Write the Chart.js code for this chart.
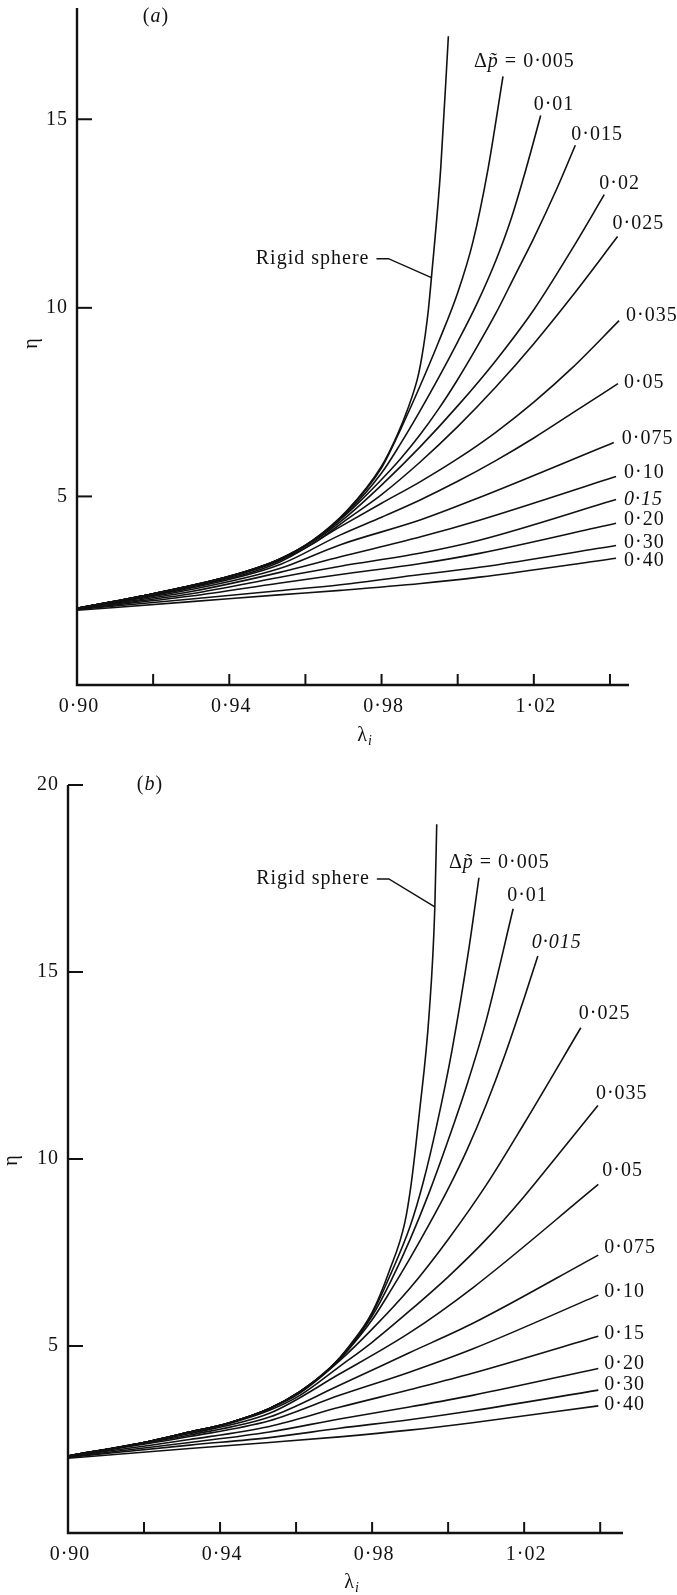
<!DOCTYPE html>
<html>
<head>
<meta charset="utf-8">
<script src="https://cdn.jsdelivr.net/npm/chart.js@4.4.1/dist/chart.umd.min.js"></script>
<style>
  body { margin: 0; background: #fff; }
  canvas { display: block; }
</style>
</head>
<body>
<canvas id="chartA" width="677" height="775"></canvas>
<canvas id="chartB" width="677" height="820"></canvas>
<script>
// Values, each point is [lambda_i, eta]

// ---- panel (a) ----
const namesA = ['Rigid sphere', '0·005', '0·01', '0·015', '0·02', '0·025', '0·035', '0·05', '0·075', '0·10', '0·15', '0·20', '0·30', '0·40'];
const a_rigid = [[0.90, 2.03], [0.92, 2.42], [0.94, 2.88], [0.953, 3.33], [0.962, 3.84], [0.971, 4.63], [0.98, 5.8], [0.984, 6.6], [0.987, 7.35], [0.9895, 8.15], [0.9905, 8.65], [0.9915, 9.3], [0.9923, 9.95], [0.9931, 10.8], [0.99555, 13.71], [0.99755, 17.2]];
const a_005 = [[0.90, 2.03], [0.92, 2.42], [0.94, 2.88], [0.953, 3.33], [0.962, 3.84], [0.971, 4.62], [0.98, 5.76], [0.985, 6.78], [0.99, 7.9], [0.995, 9.1], [1.0, 10.4], [1.004, 11.75], [1.008, 13.7], [1.0119, 16.14]];
const a_010 = [[0.90, 2.03], [0.92, 2.42], [0.94, 2.88], [0.953, 3.33], [0.962, 3.83], [0.971, 4.58], [0.98, 5.62], [0.985, 6.4], [0.99, 7.25], [0.995, 8.15], [1.0, 9.1], [1.005, 10.1], [1.01, 11.25], [1.014, 12.35], [1.018, 13.7], [1.0218, 15.1]];
const a_015 = [[0.90, 2.03], [0.92, 2.42], [0.94, 2.88], [0.953, 3.32], [0.962, 3.82], [0.971, 4.55], [0.98, 5.45], [0.985, 6.0], [0.99, 6.62], [0.995, 7.32], [1.0, 8.1], [1.005, 8.95], [1.01, 9.85], [1.015, 10.85], [1.02, 11.85], [1.026, 13.15], [1.0309, 14.31]];
const a_020 = [[0.90, 2.03], [0.92, 2.42], [0.94, 2.87], [0.953, 3.31], [0.962, 3.8], [0.971, 4.48], [0.98, 5.3], [0.99, 6.3], [1.0, 7.4], [1.01, 8.6], [1.02, 9.95], [1.03, 11.55], [1.0385, 13.0]];
const a_025 = [[0.90, 2.03], [0.92, 2.42], [0.94, 2.86], [0.953, 3.29], [0.962, 3.75], [0.971, 4.4], [0.98, 5.05], [0.99, 5.9], [1.0, 6.85], [1.01, 7.9], [1.02, 9.05], [1.03, 10.3], [1.042, 11.89]];
const a_035 = [[0.90, 2.03], [0.93, 2.6], [0.953, 3.25], [0.9692, 4.2], [0.98, 4.82], [0.99, 5.38], [1.0, 6.0], [1.01, 6.7], [1.02, 7.5], [1.03, 8.4], [1.0424, 9.66]];
const a_050 = [[0.90, 2.03], [0.93, 2.57], [0.953, 3.18], [0.9692, 3.98], [0.98, 4.45], [0.99, 4.9], [1.0, 5.4], [1.01, 5.95], [1.02, 6.55], [1.03, 7.2], [1.0421, 7.99]];
const a_075 = [[0.90, 2.03], [0.93, 2.53], [0.953, 3.08], [0.9692, 3.72], [0.9903, 4.38], [1.0057, 4.97], [1.041, 6.43]];
const a_100 = [[0.90, 2.02], [0.93, 2.48], [0.953, 2.98], [0.9692, 3.4], [0.9903, 3.93], [1.0057, 4.37], [1.0416, 5.53]];
const a_150 = [[0.90, 2.02], [0.93, 2.42], [0.953, 2.85], [0.9692, 3.15], [0.9903, 3.5], [1.0057, 3.84], [1.0416, 4.92]];
const a_200 = [[0.90, 2.01], [0.93, 2.36], [0.953, 2.7], [0.9692, 2.93], [0.9903, 3.22], [1.0057, 3.49], [1.0416, 4.29]];
const a_300 = [[0.90, 2.0], [0.93, 2.28], [0.953, 2.5], [0.9692, 2.66], [0.9903, 2.93], [1.0057, 3.12], [1.0416, 3.70]];
const a_400 = [[0.90, 1.98], [0.93, 2.21], [0.953, 2.39], [0.9692, 2.51], [0.9903, 2.69], [1.0057, 2.86], [1.0416, 3.36]];

// ---- panel (b) ----
const namesB = ['Rigid sphere', '0·005', '0·01', '0·015', '0·025', '0·035', '0·05', '0·075', '0·10', '0·15', '0·20', '0·30', '0·40'];
const b_rigid = [[0.90, 2.06], [0.92, 2.42], [0.932, 2.7], [0.9425, 2.95], [0.953, 3.33], [0.961, 3.78], [0.9688, 4.4], [0.974, 5.0], [0.98, 5.9], [0.9845, 7.0], [0.9886, 8.3], [0.9903, 9.35], [0.9924, 11.2], [0.995, 13.88], [0.9965, 16.74], [0.997, 18.95]];
const b_005 = [[0.90, 2.06], [0.92, 2.42], [0.932, 2.7], [0.9425, 2.95], [0.953, 3.33], [0.961, 3.78], [0.9688, 4.4], [0.974, 4.98], [0.98, 5.86], [0.985, 6.95], [0.99, 8.2], [0.9935, 9.4], [0.997, 10.9], [1.001, 12.9], [1.0055, 15.65], [1.0081, 17.52]];
const b_010 = [[0.90, 2.06], [0.92, 2.42], [0.932, 2.7], [0.9425, 2.95], [0.953, 3.33], [0.961, 3.78], [0.9688, 4.4], [0.974, 4.96], [0.98, 5.8], [0.985, 6.75], [0.99, 7.85], [0.995, 9.1], [1.0, 10.5], [1.005, 12.0], [1.01, 13.7], [1.0171, 16.69]];
const b_015 = [[0.90, 2.06], [0.92, 2.42], [0.932, 2.7], [0.9425, 2.95], [0.953, 3.33], [0.961, 3.78], [0.9688, 4.38], [0.974, 4.93], [0.98, 5.7], [0.985, 6.5], [0.99, 7.35], [0.995, 8.25], [1.0, 9.2], [1.005, 10.25], [1.01, 11.45], [1.015, 12.8], [1.02, 14.3], [1.0236, 15.43]];
const b_025 = [[0.90, 2.06], [0.92, 2.42], [0.932, 2.7], [0.9425, 2.95], [0.953, 3.32], [0.961, 3.74], [0.9714, 4.6], [0.98, 5.45], [0.99, 6.55], [1.0, 7.85], [1.01, 9.3], [1.02, 10.95], [1.0349, 13.51]];
const b_035 = [[0.90, 2.06], [0.92, 2.42], [0.932, 2.69], [0.9425, 2.93], [0.953, 3.28], [0.961, 3.68], [0.9714, 4.45], [0.98, 5.1], [0.99, 5.95], [1.0, 6.85], [1.01, 7.85], [1.02, 9.0], [1.03, 10.25], [1.0394, 11.43]];
const b_050 = [[0.90, 2.06], [0.932, 2.66], [0.953, 3.2], [0.9714, 4.25], [0.9898, 5.35], [1.0064, 6.55], [1.0395, 9.32]];
const b_075 = [[0.90, 2.05], [0.932, 2.62], [0.953, 3.1], [0.9714, 3.95], [0.9898, 4.82], [1.0064, 5.6], [1.0395, 7.43]];
const b_100 = [[0.90, 2.05], [0.932, 2.58], [0.953, 3.0], [0.9714, 3.68], [0.9898, 4.3], [1.0064, 4.92], [1.0395, 6.36]];
const b_150 = [[0.90, 2.04], [0.932, 2.5], [0.953, 2.85], [0.9714, 3.36], [0.9898, 3.83], [1.0064, 4.27], [1.0395, 5.26]];
const b_200 = [[0.90, 2.03], [0.932, 2.42], [0.953, 2.7], [0.9714, 3.05], [0.9898, 3.37], [1.0064, 3.68], [1.0395, 4.4]];
const b_300 = [[0.90, 2.02], [0.932, 2.35], [0.953, 2.55], [0.9714, 2.8], [0.9898, 3.03], [1.0064, 3.27], [1.0395, 3.82]];
const b_400 = [[0.90, 2.0], [0.932, 2.26], [0.953, 2.42], [0.9714, 2.57], [0.9898, 2.75], [1.0064, 2.95], [1.0395, 3.40]];

// ---- axes ----
const xTicks = [0.92, 0.94, 0.96, 0.98, 1.00, 1.02, 1.04];
const xLabelValues = [0.90, 0.94, 0.98, 1.02];
const xLabelText = ['0·90', '0·94', '0·98', '1·02'];
const yTicksA = [5, 10, 15];
const yTicksB = [5, 10, 15, 20];

// label placement next to each curve end (pixels), same order as names, rigid first
const labelOffA = [null, [-29, -15], [-7, -11], [-4, -11], [-5, -11], [-5, -13], [7, -5], [6, -1], [8, -4], [8, -4], [8, 0], [8, -3], [8, -3], [8, 2]];
const labelOffB = [null, [-30, -15], [-6, -13], [-6, -13], [-2, -14], [-2, -12], [4, -14], [6, -7], [6, -3], [6, -3], [6, -5], [6, -5], [6, -1]];

const FONT = '"Liberation Serif", "Times New Roman", serif';
const INK = '#111';

function font(size, italic) {
  return (italic ? 'italic ' : '') + size + 'px ' + FONT;
}

// draw a run of text pieces (mixed roman / italic / subscript)
function runs(ctx, parts, x, y, align) {
  let w = 0;
  parts.forEach(p => {
    ctx.font = font(p.size || 20, p.italic);
    p.w = ctx.measureText(p.t).width;
    w += p.w;
  });
  let cx = align === 'center' ? x - w / 2 : align === 'right' ? x - w : x;
  parts.forEach(p => {
    ctx.font = font(p.size || 20, p.italic);
    ctx.fillText(p.t, cx, y + (p.dy || 0));
    cx += p.w;
  });
}

function figurePlugin(cfg) {
  return {
    id: 'figure',
    afterDraw(chart) {
      const { ctx, chartArea: ca, scales: { x, y } } = chart;
      ctx.save();
      ctx.strokeStyle = INK;
      ctx.fillStyle = INK;
      ctx.textBaseline = 'middle';
      ctx.textAlign = 'left';
      if ('letterSpacing' in ctx) ctx.letterSpacing = '1px';

      // axis lines
      ctx.lineWidth = 2.4;
      ctx.beginPath();
      ctx.moveTo(ca.left, ca.top);
      ctx.lineTo(ca.left, ca.bottom);
      ctx.lineTo(ca.right, ca.bottom);
      ctx.stroke();

      // inward ticks
      ctx.lineWidth = 2;
      xTicks.forEach(v => {
        const px = x.getPixelForValue(v);
        ctx.beginPath();
        ctx.moveTo(px, ca.bottom);
        ctx.lineTo(px, ca.bottom - 11);
        ctx.stroke();
      });
      cfg.yTicks.forEach(v => {
        const py = y.getPixelForValue(v);
        ctx.beginPath();
        ctx.moveTo(ca.left, py);
        ctx.lineTo(ca.left + 15, py);
        ctx.stroke();
      });

      // tick labels
      xLabelValues.forEach((v, i) => runs(ctx, [{ t: xLabelText[i] }], x.getPixelForValue(v) + 2, ca.bottom + 22, 'center'));
      cfg.yTicks.forEach(v => runs(ctx, [{ t: String(v) }], ca.left - 9, y.getPixelForValue(v), 'right'));

      // axis titles and panel tag
      runs(ctx, [{ t: 'λ' }, { t: 'i', italic: true, size: 14, dy: 5 }], cfg.lam[0], cfg.lam[1], 'center');
      ctx.save();
      ctx.translate(cfg.eta[0], cfg.eta[1]);
      ctx.rotate(-Math.PI / 2);
      runs(ctx, [{ t: 'η' }], 0, 0, 'center');
      ctx.restore();
      runs(ctx, [{ t: '(' }, { t: cfg.tag, italic: true }, { t: ')' }], cfg.tagAt[0], cfg.tagAt[1], 'center');

      // curve labels at curve ends
      chart.data.datasets.forEach((ds, i) => {
        const off = cfg.labelOff[i];
        if (!off) return;
        const pts = chart.getDatasetMeta(i).data;
        const end = pts[pts.length - 1];
        const parts = i === 1
          ? [{ t: 'Δ' }, { t: 'p\u0303', italic: true }, { t: ' = ' + ds.label }]
          : [{ t: ds.label, italic: cfg.italic.includes(ds.label) }];
        runs(ctx, parts, end.x + off[0], end.y + off[1], 'left');
      });

      // "Rigid sphere" with its leader line
      const tgt = chart.getDatasetMeta(0).data[cfg.leaderIdx];
      const lx = tgt.x + cfg.leader[0];
      const ly = tgt.y + cfg.leader[1];
      ctx.lineWidth = 1.5;
      ctx.beginPath();
      ctx.moveTo(lx - 12, ly);
      ctx.lineTo(lx, ly);
      ctx.lineTo(tgt.x, tgt.y);
      ctx.stroke();
      runs(ctx, [{ t: 'Rigid sphere' }], lx - 19, ly, 'right');

      ctx.restore();
    }
  };
}

function makePanel(id, curves, names, cfg) {
  const datasets = curves.map((pts, i) => ({
    label: names[i],
    data: pts.map(p => ({ x: p[0], y: p[1] })),
    borderColor: INK,
    borderWidth: 1.6,
    pointRadius: 0,
    fill: false,
    cubicInterpolationMode: 'monotone'
  }));
  return new Chart(document.getElementById(id), {
    type: 'line',
    data: { datasets },
    options: {
      responsive: false,
      animation: false,
      events: [],
      layout: { padding: cfg.padding },
      plugins: { legend: { display: false }, tooltip: { enabled: false } },
      scales: {
        x: { type: 'linear', min: 0.90, max: cfg.xMax, display: false },
        y: { type: 'linear', min: 0, max: cfg.yMax, display: false }
      }
    },
    plugins: [figurePlugin(cfg)]
  });
}

makePanel('chartA',
  [a_rigid, a_005, a_010, a_015, a_020, a_025, a_035, a_050, a_075, a_100, a_150, a_200, a_300, a_400],
  namesA, {
    padding: { left: 77, right: 48, top: 8, bottom: 90 },
    xMax: 1.045, yMax: 17.95, yTicks: yTicksA,
    labelOff: labelOffA, italic: ['0·15'],
    leaderIdx: 13, leader: [-43, -19],
    tag: 'a', tagAt: [156, 17], eta: [32, 343], lam: [365, 736]
  });

makePanel('chartB',
  [b_rigid, b_005, b_010, b_015, b_025, b_035, b_050, b_075, b_100, b_150, b_200, b_300, b_400],
  namesB, {
    padding: { left: 68, right: 54, top: 10, bottom: 62 },
    xMax: 1.046, yMax: 20, yTicks: yTicksB,
    labelOff: labelOffB, italic: ['0·015'],
    leaderIdx: 14, leader: [-46, -28],
    tag: 'b', tagAt: [150, 10], eta: [12, 385], lam: [352, 808]
  });
</script>
</body>
</html>
